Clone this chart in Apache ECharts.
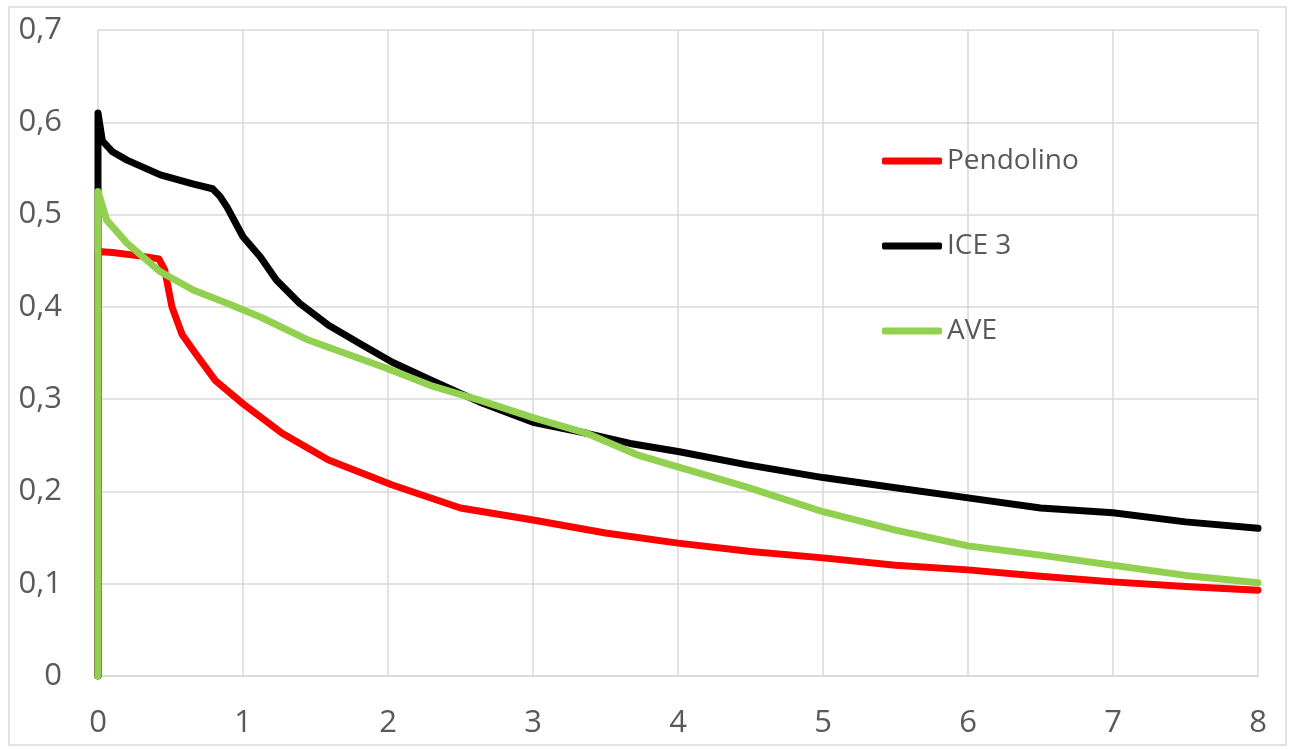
<!DOCTYPE html>
<html>
<head>
<meta charset="utf-8">
<script src="https://cdn.jsdelivr.net/npm/echarts@6/dist/echarts.min.js"></script>
<style>
  html, body { margin: 0; padding: 0; background: #fff; }
  #chart { width: 1290px; height: 749px; }
</style>
</head>
<body>
<div id="chart"></div>
<script>
const seriesNames = ['Pendolino', 'ICE 3', 'AVE'];

// [x, y] points
const pendolino = [
  [0, 0], [0, 0.46], [0.1, 0.459], [0.3, 0.455], [0.42, 0.452], [0.46, 0.44],
  [0.51, 0.40], [0.58, 0.37], [0.67, 0.35], [0.81, 0.32], [1.0, 0.295],
  [1.27, 0.263], [1.59, 0.234], [2.03, 0.207], [2.5, 0.182], [3.0, 0.169],
  [3.5, 0.155], [4.0, 0.144], [4.5, 0.135], [5.0, 0.128], [5.5, 0.12],
  [6.0, 0.115], [6.5, 0.108], [7.0, 0.102], [7.5, 0.097], [8.0, 0.093]
];
const ice3 = [
  [0, 0], [0, 0.61], [0.03, 0.58], [0.1, 0.568], [0.2, 0.559], [0.43, 0.543],
  [0.66, 0.533], [0.79, 0.528], [0.84, 0.52], [0.89, 0.508], [1.0, 0.476],
  [1.12, 0.454], [1.23, 0.429], [1.39, 0.404], [1.59, 0.38], [1.82, 0.359],
  [2.03, 0.34], [2.29, 0.321], [2.63, 0.297], [3.0, 0.275], [3.37, 0.263],
  [3.67, 0.252], [4.01, 0.243], [4.47, 0.229], [5.0, 0.215], [5.5, 0.204],
  [6.0, 0.193], [6.5, 0.182], [7.0, 0.177], [7.5, 0.167], [8.0, 0.16]
];
const ave = [
  [0, 0], [0, 0.525], [0.06, 0.494], [0.2, 0.469], [0.43, 0.438], [0.66, 0.418],
  [0.89, 0.404], [1.12, 0.389], [1.45, 0.364], [2.0, 0.333], [2.29, 0.315],
  [2.63, 0.299], [3.0, 0.28], [3.37, 0.263], [3.73, 0.239], [4.01, 0.226],
  [4.47, 0.205], [5.0, 0.178], [5.5, 0.158], [6.0, 0.141], [6.5, 0.131],
  [7.0, 0.12], [7.5, 0.109], [8.0, 0.101]
];

const chart = echarts.init(document.getElementById('chart'));
const gridLine = { lineStyle: { color: '#d9d9d9', width: 1.5 } };
const labelFont = { color: '#595959', fontSize: 31, fontFamily: 'Open Sans' };

chart.setOption({
  backgroundColor: '#fff',
  animation: false,
  graphic: [{
    type: 'rect',
    shape: { x: 9, y: 7, width: 1277, height: 738 },
    style: { fill: 'none', stroke: '#d9d9d9', lineWidth: 1.5 },
    silent: true
  }],
  grid: { left: 98, right: 32, top: 30, bottom: 73 },
  legend: {
    orient: 'vertical',
    left: 882,
    top: 146,
    padding: 0,
    icon: 'roundRect',
    itemWidth: 60,
    itemHeight: 7,
    itemGap: 55,
    textStyle: { color: '#595959', fontSize: 28, fontFamily: 'Open Sans', lineHeight: 30 },
    data: seriesNames
  },
  xAxis: {
    type: 'value', min: 0, max: 8, interval: 1,
    axisLine: { show: true, lineStyle: { color: '#d9d9d9', width: 1.5 } },
    axisTick: { show: false },
    splitLine: gridLine,
    axisLabel: { ...labelFont, margin: 32 }
  },
  yAxis: {
    type: 'value', min: 0, max: 0.7, interval: 0.1,
    axisLine: { show: false },
    axisTick: { show: false },
    splitLine: gridLine,
    axisLabel: {
      ...labelFont, margin: 36,
      formatter: v => v === 0 ? '0' : v.toFixed(1).replace('.', ',')
    }
  },
  series: [
    { name: seriesNames[0], type: 'line', data: pendolino, showSymbol: false, symbol: 'none',
      lineStyle: { color: '#ff0000', width: 7, cap: 'round', join: 'round' }, itemStyle: { color: '#ff0000' } },
    { name: seriesNames[1], type: 'line', data: ice3, showSymbol: false, symbol: 'none',
      lineStyle: { color: '#000000', width: 7, cap: 'round', join: 'round' }, itemStyle: { color: '#000000' } },
    { name: seriesNames[2], type: 'line', data: ave, showSymbol: false, symbol: 'none',
      lineStyle: { color: '#92d050', width: 7, cap: 'round', join: 'round' }, itemStyle: { color: '#92d050' } }
  ]
});
</script>
</body>
</html>
